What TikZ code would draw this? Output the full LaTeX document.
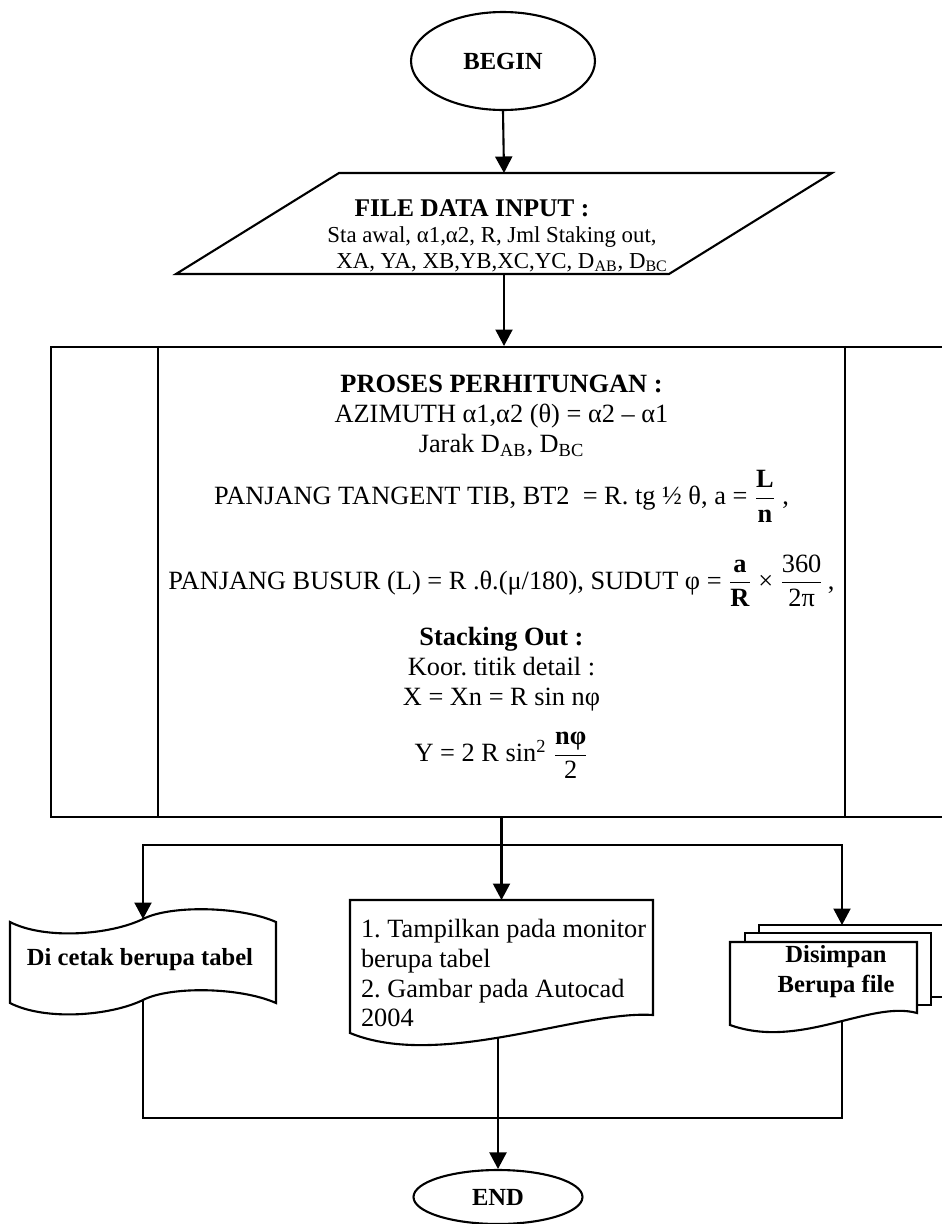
\documentclass[tikz,border=0pt]{standalone}
\usepackage{amsmath}
\usepackage{fontspec}
\setmainfont{Liberation Serif}
\usetikzlibrary{arrows.meta,positioning,shapes.geometric}
\newcommand{\fr}[2]{\smash{$\dfrac{\text{#1}}{\text{#2}}$}}
\frenchspacing

\begin{document}
\begin{tikzpicture}[
  x=0.02cm,y=-0.02cm,
  line width=1.2pt,
  >={Triangle[length=3.3mm,width=3.4mm]},
  terminal/.style={draw,ellipse,inner sep=0pt,font=\fontsize{14}{17}\selectfont\bfseries},
  procbox/.style={draw,rectangle,minimum width=18.02cm,minimum height=9.4cm},
  txt/.style={inner sep=0pt,align=center,font=\fontsize{15}{17}\selectfont},
  boldtxt/.style={txt,font=\fontsize{14}{17}\selectfont\bfseries}
]
\useasboundingbox (0,0) rectangle (942,1224);

% begin and input
\node[terminal,minimum width=3.68cm,minimum height=1.96cm] (start) at (503,61) {BEGIN};
\draw (176,274) -- (339,173) -- (832,173) -- (669,274) -- cycle;
\node[txt,font=\fontsize{13}{14.8}\selectfont] (input) at (492,236)
  {{\fontsize{14.5}{14.8}\selectfont\textbf{FILE DATA INPUT :}}\hspace*{0.8cm}\\
   Sta awal, α1,α2, R, Jml Staking out,\\
   \hspace*{0.4cm}XA, YA, XB,YB,XC,YC, D\textsubscript{AB}, D\textsubscript{BC}};
\coordinate (inputIn) at (504,173);
\coordinate (inputOut) at (504,274);

% process
\node[procbox] (proc) at (501.5,582) {};
\draw ([xshift=2.16cm]proc.north west) -- ([xshift=2.16cm]proc.south west);
\draw ([xshift=-2.16cm]proc.north east) -- ([xshift=-2.16cm]proc.south east);
\node[txt,below=0.56cm of proc.north] (procText) {%
  \textbf{PROSES PERHITUNGAN :}\\
  AZIMUTH α1,α2 (θ) = α2 – α1\\
  Jarak D\textsubscript{AB}, D\textsubscript{BC}\\[13pt]
  PANJANG TANGENT TIB, BT2 \ = R. tg ½ θ, a = \fr{\textbf{L}}{\textbf{n}} ,\\[31pt]
  PANJANG BUSUR (L) = R .θ.(μ/180), SUDUT φ = \fr{\textbf{a}}{\textbf{R}} × \fr{360}{2π}\,,\\[15pt]
  \textbf{Stacking Out :}\\
  Koor. titik detail :\\
  X = Xn = R sin nφ\\[15pt]
  Y = 2 R sin\textsuperscript{2} \fr{\textbf{nφ}}{2}};

% outputs
\draw (10,922) .. controls (45,940) and (110,935) .. (143,919)
  .. controls (170,905) and (240,906) .. (276,922) -- (276,1003)
  .. controls (240,987) and (170,986) .. (143,1000)
  .. controls (110,1016) and (45,1021) .. (10,1003) -- cycle;
\node[boldtxt] (cetak) at (140,960) {Di cetak berupa tabel};
\coordinate (cetakIn) at (143,919);
\coordinate (cetakOut) at (143,1000);

\draw (350,900) -- (653,900) -- (653,1015) .. controls (580,1010) and (440,1070) .. (350,1033) -- cycle;
\node[txt,align=left,anchor=north west] (tampil) at (360,918)
  {1. Tampilkan pada monitor\\berupa tabel\\2. Gambar pada Autocad\\2004};
\coordinate (tampilIn) at (501.5,900);
\coordinate (tampilOut) at (498,1037);

\draw (759,933) -- (759,925) -- (946,925) -- (946,997) -- (931,997);
\draw (745,942) -- (745,933) -- (931,933) -- (931,1005) -- (917,1005);
\draw (730,942) -- (917,942) -- (917,1013) .. controls (870,1000) and (800,1050) .. (730,1025) -- cycle;
\node[boldtxt] (simpan) at (836,972) {Disimpan\\Berupa file};
\coordinate (simpanIn) at (842,925);
\coordinate (simpanOut) at (842,1022);

\node[terminal,minimum width=3.38cm,minimum height=1.08cm] (stop) at (498,1197) {END};

% connectors
\coordinate (split) at (501.5,845);
\coordinate (join) at (498,1118);
\draw[->] (start.south) -- (inputIn);
\draw[->] (inputOut) -- (inputOut |- proc.north);
\draw[->] (proc.south) -- (tampilIn);
\draw[->] (split) -| (cetakIn);
\draw[->] (split) -| (simpanIn);
\draw (cetakOut) |- (join);
\draw (simpanOut) |- (join);
\draw[->] (tampilOut) -- (stop);
\end{tikzpicture}
\end{document}
